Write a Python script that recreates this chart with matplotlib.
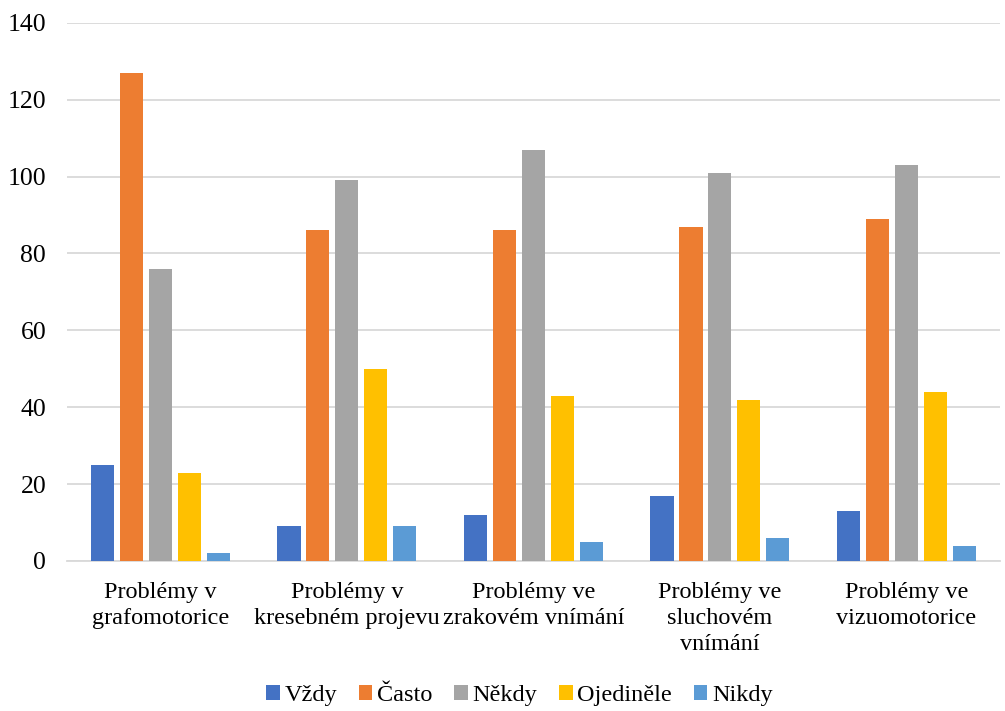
import matplotlib
matplotlib.use("Agg")
import matplotlib.pyplot as plt
import numpy as np

categories = ["Problémy v\ngrafomotorice", "Problémy v\nkresebném projevu",
              "Problémy ve\nzrakovém vnímání", "Problémy ve\nsluchovém\nvnímání",
              "Problémy ve\nvizuomotorice"]
series_names = ["Vždy", "Často", "Někdy", "Ojediněle", "Nikdy"]
vzdy = [25, 9, 12, 17, 13]
casto = [127, 86, 86, 87, 89]
nekdy = [76, 99, 107, 101, 103]
ojedinele = [23, 50, 43, 42, 44]
nikdy = [2, 9, 5, 6, 4]
colors = ["#4472C4", "#ED7D31", "#A5A5A5", "#FFC000", "#5B9BD5"]
yticks = [0, 20, 40, 60, 80, 100, 120, 140]

plt.rcParams['font.family'] = ['Liberation Serif', 'DejaVu Serif']

fig = plt.figure(figsize=(10.05, 7.11), dpi=100)
ax = fig.add_axes([0.0667, 0.211, 0.928, 0.757])

x = np.arange(len(categories))
width = 0.124
step = 0.155
data = [vzdy, casto, nekdy, ojedinele, nikdy]
for i, (name, vals, c) in enumerate(zip(series_names, data, colors)):
    ax.bar(x + (i - 2) * step, vals, width, color=c, label=name, zorder=3)

ax.set_xlim(-0.5, len(categories) - 0.5)
ax.set_ylim(0, 140)
ax.set_yticks(yticks)
ax.set_xticks(x)
ax.set_xticklabels(categories, fontsize=17.5, linespacing=1.33)
ax.tick_params(axis='y', labelsize=18.5, length=0, pad=15)
ax.tick_params(axis='x', length=0, pad=15)
ax.grid(axis='y', color='#D9D9D9', linewidth=1.3, zorder=0)
for s in ['top', 'right', 'left']:
    ax.spines[s].set_visible(False)
ax.spines['bottom'].set_color('#D9D9D9')
ax.spines['bottom'].set_linewidth(1.3)

fig.legend(loc='center', bbox_to_anchor=(0.517, 0.022), ncol=5, frameon=False,
           fontsize=17.5, handlelength=0.55, handleheight=0.55, handletextpad=0.2,
           columnspacing=0.9)

fig.savefig("out.png", dpi=100)
